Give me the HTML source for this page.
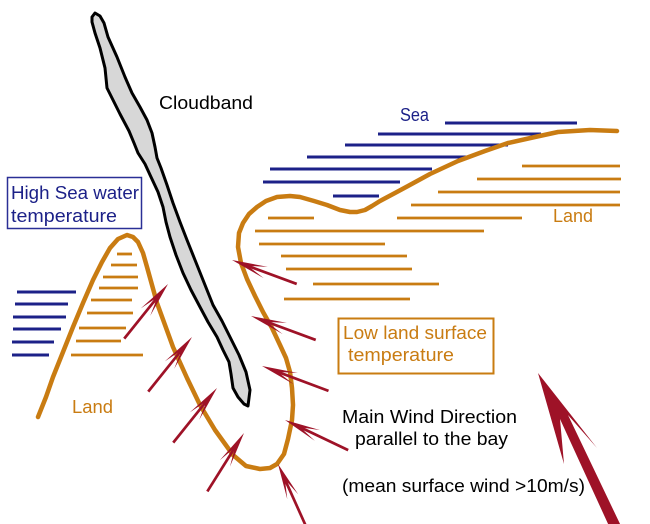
<!DOCTYPE html>
<html><head><meta charset="utf-8"><style>
html,body{margin:0;padding:0;background:#fff;}
svg{display:block;}
text{font-family:"Liberation Sans",Arial,sans-serif;}
</style></head><body>
<svg width="650" height="524" viewBox="0 0 650 524" xmlns="http://www.w3.org/2000/svg">
<rect width="650" height="524" fill="#fff"/>

<!-- Sea lines (top right) -->
<g stroke="#1c2188" stroke-width="3" fill="none">
<line x1="445" y1="123" x2="577" y2="123"/>
<line x1="378" y1="134" x2="541" y2="134"/>
<line x1="345" y1="145" x2="508" y2="145"/>
<line x1="307" y1="157" x2="469" y2="157"/>
<line x1="270" y1="169" x2="432" y2="169"/>
<line x1="263" y1="182" x2="400" y2="182"/>
<line x1="333" y1="196" x2="379" y2="196"/>
<!-- left sea lines -->
<line x1="17" y1="292" x2="76" y2="292"/>
<line x1="15" y1="304" x2="68" y2="304"/>
<line x1="13" y1="317" x2="66" y2="317"/>
<line x1="13" y1="329" x2="61" y2="329"/>
<line x1="12" y1="342" x2="54" y2="342"/>
<line x1="12" y1="355" x2="49" y2="355"/>
</g>

<!-- Land lines -->
<g stroke="#c97c12" stroke-width="2.8" fill="none">
<line x1="522" y1="166" x2="620" y2="166"/>
<line x1="477" y1="179" x2="621" y2="179"/>
<line x1="438" y1="192" x2="620" y2="192"/>
<line x1="411" y1="205" x2="620" y2="205"/>
<line x1="397" y1="218" x2="522" y2="218"/>
<line x1="268" y1="218" x2="314" y2="218"/>
<line x1="255" y1="231" x2="484" y2="231"/>
<line x1="259" y1="244" x2="385" y2="244"/>
<line x1="281" y1="256" x2="407" y2="256"/>
<line x1="286" y1="269" x2="412" y2="269"/>
<line x1="313" y1="284" x2="439" y2="284"/>
<line x1="284" y1="299" x2="410" y2="299"/>
<!-- left hill -->
<line x1="117" y1="254" x2="132" y2="254"/>
<line x1="111" y1="265" x2="137" y2="265"/>
<line x1="103" y1="277" x2="138" y2="277"/>
<line x1="99" y1="288" x2="138" y2="288"/>
<line x1="91" y1="300" x2="132" y2="300"/>
<line x1="87" y1="313" x2="133" y2="313"/>
<line x1="79" y1="328" x2="126" y2="328"/>
<line x1="76" y1="341" x2="121" y2="341"/>
<line x1="71" y1="355" x2="143" y2="355"/>
</g>

<!-- Coastline -->
<polyline fill="none" stroke="#c97c12" stroke-width="4.5" stroke-linejoin="round" stroke-linecap="round"
points="38,417 46,397 53,377 63,352 73,327 83,303 93,280 102,262 110,248 118,239 127,235 133,237 138,242 143,253 147,267 152,285 157,303 165,325 173,347 187,378 200,405 215,430 233,455 246,466 260,469 270,468 277,464 284,454 288,439 292,420 293,405 292,388 290,372 286,358 280,345 272,328 263,312 255,296 247,279 241,263 238,247 239,233 243,223 249,214 257,207 266,201 277,197 290,196 300,197 314,201 327,205 340,210 350,212 357,212 365,210 372,206 380,201 395,193 408,186 430,174 458,161 485,151 508,143 535,137 558,132 590,130 617,131"/>

<!-- Cloudband -->
<polygon fill="#d7d7d7" stroke="#000" stroke-width="3" stroke-linejoin="round"
points="95,13 100,16 104,23 108,37 117,57 125,77 132,93 140,107 147,120 152,133 155,147 157,158 161,168 167,185 173,203 180,222 187,240 195,260 203,280 213,305 222,321 230,337 239,355 246,372 250,390 248,406 244,404 238,397 233,388 231,374 229,362 223,350 217,337 208,322 200,307 191,290 183,273 176,255 170,237 166,222 163,207 158,192 151,177 145,164 138,153 134,143 129,131 120,114 112,98 107,88 105,68 100,48 95,33 92,22 92,17"/>

<!-- Small wind arrows -->
<g fill="#9e1227" stroke="#9e1227">
<g transform="translate(168,284) rotate(128.7)"><path stroke="none" d="M0,0 L36,-6 L21,-1.3 L21,1.3 L36,6 Z"/><line x1="18" y1="0" x2="70" y2="0" stroke-width="2.7"/></g>
<g transform="translate(192,337) rotate(128.7)"><path stroke="none" d="M0,0 L36,-6 L21,-1.3 L21,1.3 L36,6 Z"/><line x1="18" y1="0" x2="70" y2="0" stroke-width="2.7"/></g>
<g transform="translate(217,388) rotate(128.7)"><path stroke="none" d="M0,0 L36,-6 L21,-1.3 L21,1.3 L36,6 Z"/><line x1="18" y1="0" x2="70" y2="0" stroke-width="2.7"/></g>
<g transform="translate(244,433) rotate(122.1)"><path stroke="none" d="M0,0 L36,-6 L21,-1.3 L21,1.3 L36,6 Z"/><line x1="18" y1="0" x2="69" y2="0" stroke-width="2.7"/></g>
<g transform="translate(278,464) rotate(65.8)"><path stroke="none" d="M0,0 L36,-6 L21,-1.3 L21,1.3 L36,6 Z"/><line x1="18" y1="0" x2="70" y2="0" stroke-width="2.7"/></g>
<g transform="translate(251,316) rotate(20.3)"><path stroke="none" d="M0,0 L36,-6 L21,-1.3 L21,1.3 L36,6 Z"/><line x1="18" y1="0" x2="69" y2="0" stroke-width="2.7"/></g>
<g transform="translate(262,366) rotate(20.5)"><path stroke="none" d="M0,0 L36,-6 L21,-1.3 L21,1.3 L36,6 Z"/><line x1="18" y1="0" x2="71" y2="0" stroke-width="2.7"/></g>
<g transform="translate(285,420) rotate(25.5)"><path stroke="none" d="M0,0 L36,-6 L21,-1.3 L21,1.3 L36,6 Z"/><line x1="18" y1="0" x2="70" y2="0" stroke-width="2.7"/></g>
<g transform="translate(232,260) rotate(20.3)"><path stroke="none" d="M0,0 L36,-6 L21,-1.3 L21,1.3 L36,6 Z"/><line x1="18" y1="0" x2="69" y2="0" stroke-width="2.7"/></g>
</g>

<!-- Big wind arrow -->
<polygon fill="#9e1227" points="538,373 597,448 568,415 621,526 609,526 560,419 564,464"/>

<!-- Boxes -->
<rect x="7.5" y="177.5" width="134" height="51" fill="none" stroke="#2a2f96" stroke-width="1.5"/>
<rect x="338.5" y="318.5" width="155" height="55" fill="none" stroke="#c97c12" stroke-width="2"/>

<!-- Labels -->
<text x="159" y="109" font-size="18.5" fill="#000" textLength="94" lengthAdjust="spacingAndGlyphs">Cloudband</text>
<text x="400" y="121" font-size="18.5" fill="#1c2188" textLength="29" lengthAdjust="spacingAndGlyphs">Sea</text>
<text x="553" y="222" font-size="18.5" fill="#c97c12" textLength="40" lengthAdjust="spacingAndGlyphs">Land</text>
<text x="72" y="413" font-size="18.5" fill="#c97c12" textLength="41" lengthAdjust="spacingAndGlyphs">Land</text>
<text x="11" y="199" font-size="18.5" fill="#1c2188" textLength="128" lengthAdjust="spacingAndGlyphs">High Sea water</text>
<text x="11" y="222" font-size="18.5" fill="#1c2188" textLength="106" lengthAdjust="spacingAndGlyphs">temperature</text>
<text x="343" y="339" font-size="18.5" fill="#c97c12" textLength="144" lengthAdjust="spacingAndGlyphs">Low land surface</text>
<text x="348" y="361" font-size="18.5" fill="#c97c12" textLength="106" lengthAdjust="spacingAndGlyphs">temperature</text>
<text x="342" y="423" font-size="18.5" fill="#000" textLength="175" lengthAdjust="spacingAndGlyphs">Main Wind Direction</text>
<text x="355" y="445" font-size="18.5" fill="#000" textLength="153" lengthAdjust="spacingAndGlyphs">parallel to the bay</text>
<text x="342" y="492" font-size="18.5" fill="#000" textLength="243" lengthAdjust="spacingAndGlyphs">(mean surface wind &gt;10m/s)</text>
</svg>
</body></html>
